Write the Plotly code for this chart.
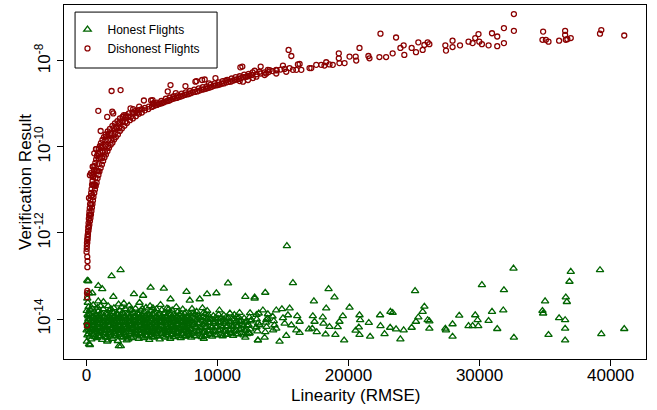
import plotly.graph_objects as go

# ---------------- Data ----------------
x_tick_values = [0, 10000, 20000, 30000, 40000]
x_tick_labels = ["0", "10000", "20000", "30000", "40000"]
y_tick_values = [1e-14, 1e-12, 1e-10, 1e-8]
y_tick_labels = ["10<sup>-14</sup>", "10<sup>-12</sup>", "10<sup>-10</sup>", "10<sup>-8</sup>"]

dishonest_rmse = [
    # low stack at RMSE ~ 0
    40, 60, 70, 50, 80, 90, 70,
    # main band, lower edge
    15, 30, 40, 46, 76, 99, 122, 160, 190, 228,
    274, 312, 350, 388, 426, 465, 503, 541, 602, 655,
    716, 784, 853, 922, 998, 1089, 1188, 1279, 1378, 1493,
    1607, 1721, 1858, 1988, 2117, 2254, 2407, 2559, 2711, 2902,
    3092, 3321, 3549, 3778, 4006, 4234, 4463, 4729, 4996, 5263,
    5529, 5796, 6062, 6329, 6596, 6900, 7205, 7509, 7814, 8119,
    8461, 8804, 9109, 9413, 9718, 10023, 10327, 10670, 11013, 11317,
    11622, 11965, 12307, 12612,
    # main band, upper edge
    69, 84, 107, 129, 145, 168, 190, 213, 236, 259,
    282, 312, 343, 366, 396, 434, 472, 510, 548, 586,
    625, 685, 746, 807, 876, 944, 1028, 1112, 1226, 1340,
    1477, 1630, 1797, 1988, 2178, 2369, 2559, 2787, 3016, 3244,
    3511, 3778, 4006, 4234, 4463, 4768, 5072, 5377, 5720, 6062,
    6367, 6672, 6976, 7281, 7586, 7890, 8233, 8576, 8880, 9185,
    9490, 9794, 10099, 10403, 10746, 11089, 11394, 11698, 12041, 12384,
    12688,
    # main band, middle
    274, 366, 457, 594, 693, 807, 944, 1074, 1241, 1462, 1676, 1934, 2285, 2772, 3191, 3739,
    1417, 1059, 1676, 1249, 1896, 1455, 2171, 1698, 2498, 2072, 2970, 2574, 3389, 2993, 3915, 3572,
    678, 518, 914, 708, 1211, 937,
    # main band, extra points on the flat part
    5133, 5392, 5666, 5925, 6199, 6458, 6748, 7052, 7357, 7662,
    7966, 8286, 8636, 8956, 9261, 9566, 9870, 10175, 10495, 10845,
    11165, 11470, 11789, 12140, 12460,
    12993, 13298, 13603, 13907, 14212, 14517, 14821, 15126, 15507,
    # scattered points above the band
    731, 1112, 1873, 2765, 2506, 6824, 5050, 4029, 2254, 1493, 480, 350, 602,
    1925, 2610, 910, 1975, 1590, 1090, 755, 1165, 960, 450, 200, 4390, 4940,
    3570, 6420, 6210, 7560, 8320, 8830, 9360, 9850, 10610, 11750, 2860, 3370, 5150,
    # right part
    11900, 12840, 13300, 13850, 15430, 15640, 15000, 14490, 16140, 15760,
    16400, 17030, 17540, 18300, 18170, 18800, 19260, 19260, 19700, 20080,
    20590, 20840, 21520, 21600, 22440, 22360, 22870, 23370, 23630, 23960,
    24210, 24260, 24820, 25150, 25330, 25660, 25790, 26040,
    12210, 12710, 13600, 14490, 15250, 16020, 17160, 17920, 18550, 19310, 11700, 11950, 12330, 12970, 13730,
    26170, 27390, 27440, 27940, 27940, 28510, 29160, 29470, 29670, 29920,
    29980, 30180, 30690, 30950, 31350, 31350, 31860, 31860, 32620, 32620,
    34850, 34800, 35060, 35260, 36070, 36530, 36530, 36580, 36700, 36960, 39190, 39290, 41040,
    20550, 8400, 9030, 13220, 13980, 16270, 270, 530, 2050,
]
dishonest_result = [
    # low stack at RMSE ~ 0
    7.1e-15, 3.2e-14, 4.5e-14, 4.0e-14, 1.6e-13, 2.2e-13, 2.8e-13,
    # main band, lower edge
    3.63e-13, 4.27e-13, 5.0e-13, 5.9e-13, 6.9e-13, 8.1e-13, 9.5e-13, 1.12e-12, 1.32e-12, 1.55e-12,
    1.9e-12, 2.24e-12, 2.7e-12, 3.24e-12, 3.9e-12, 4.7e-12, 5.7e-12, 6.9e-12, 8.5e-12, 1.02e-11,
    1.23e-11, 1.48e-11, 1.86e-11, 2.24e-11, 2.7e-11, 3.24e-11, 3.9e-11, 4.7e-11, 5.7e-11, 6.7e-11,
    7.9e-11, 9.5e-11, 1.12e-10, 1.26e-10, 1.48e-10, 1.7e-10, 1.95e-10, 2.34e-10, 2.7e-10, 3.1e-10,
    3.6e-10, 4.2e-10, 4.6e-10, 5.2e-10, 5.9e-10, 6.3e-10, 7.1e-10, 7.6e-10, 8.5e-10, 9.3e-10,
    1.0e-9, 1.05e-9, 1.15e-9, 1.2e-9, 1.32e-9, 1.38e-9, 1.48e-9, 1.62e-9, 1.7e-9, 1.86e-9,
    1.95e-9, 2.14e-9, 2.24e-9, 2.4e-9, 2.63e-9, 2.75e-9, 2.95e-9, 3.16e-9, 3.3e-9, 3.6e-9,
    3.8e-9, 4.2e-9, 4.4e-9, 4.7e-9,
    # main band, upper edge
    5.9e-13, 7.2e-13, 8.9e-13, 1.12e-12, 1.38e-12, 1.7e-12, 2.14e-12, 2.63e-12, 3.16e-12, 3.8e-12,
    4.7e-12, 5.9e-12, 7.2e-12, 8.5e-12, 1.05e-11, 1.32e-11, 1.62e-11, 2.0e-11, 2.4e-11, 2.95e-11,
    3.6e-11, 4.27e-11, 5.1e-11, 6.2e-11, 7.4e-11, 8.9e-11, 1.05e-10, 1.23e-10, 1.45e-10, 1.7e-10,
    1.95e-10, 2.29e-10, 2.63e-10, 3.1e-10, 3.55e-10, 4.0e-10, 4.6e-10, 5.0e-10, 5.5e-10, 6.0e-10,
    6.3e-10, 6.9e-10, 7.2e-10, 7.6e-10, 8.1e-10, 8.7e-10, 1.0e-9, 1.07e-9, 1.17e-9, 1.32e-9,
    1.41e-9, 1.51e-9, 1.58e-9, 1.74e-9, 1.86e-9, 2.0e-9, 2.14e-9, 2.29e-9, 2.45e-9, 2.57e-9,
    2.82e-9, 3.0e-9, 3.16e-9, 3.4e-9, 3.6e-9, 3.9e-9, 4.2e-9, 4.4e-9, 4.8e-9, 5.0e-9,
    5.4e-9,
    # main band, middle
    2.63e-12, 4.5e-12, 7.6e-12, 1.32e-11, 1.9e-11, 2.75e-11, 4.0e-11, 5.5e-11, 7.6e-11, 1.05e-10, 1.45e-10, 2.0e-10, 2.75e-10, 3.8e-10, 5.0e-10, 6.2e-10,
    7.6e-11, 7.6e-11, 1.05e-10, 1.05e-10, 1.45e-10, 1.45e-10, 2.0e-10, 2.0e-10, 2.75e-10, 2.75e-10, 3.8e-10, 3.8e-10, 5.0e-10, 5.0e-10, 6.2e-10, 6.2e-10,
    1.32e-11, 1.32e-11, 2.75e-11, 2.75e-11, 5.5e-11, 5.5e-11,
    # main band, extra points on the flat part
    8.9e-10, 9.5e-10, 1.02e-9, 1.1e-9, 1.17e-9, 1.26e-9, 1.35e-9, 1.45e-9, 1.55e-9, 1.66e-9,
    1.78e-9, 1.9e-9, 2.04e-9, 2.19e-9, 2.34e-9, 2.5e-9, 2.69e-9, 2.82e-9, 3.0e-9, 3.24e-9,
    3.47e-9, 3.7e-9, 3.98e-9, 4.27e-9, 4.57e-9,
    4.9e-9, 5.1e-9, 5.4e-9, 5.5e-9, 5.8e-9, 6.0e-9, 6.3e-9, 6.5e-9, 6.8e-9,
    # scattered points above the band
    8.9e-11, 9.8e-11, 2.1e-10, 5.0e-10, 3.55e-10, 1.78e-9, 1.23e-9, 8.7e-10, 2.95e-10, 1.74e-10, 3.47e-11, 2.45e-11, 7.1e-11,
    2.0e-9, 2.1e-9, 6.9e-10, 6.6e-10, 5.0e-10, 2.35e-10, 8.9e-11, 1.0e-10, 6.8e-11, 2.2e-11, 6.5e-12, 1.2e-9, 1.2e-9,
    7.6e-10, 2.75e-9, 1.95e-9, 2.6e-9, 3.3e-9, 3.6e-9, 3.0e-9, 4.0e-9, 3.5e-9, 7.1e-9, 5.5e-10, 7.9e-10, 1.05e-9,
    # right part
    7.4e-9, 5.9e-9, 7.4e-9, 6.2e-9, 1.8e-8, 1.3e-8, 7.8e-9, 6.2e-9, 8.3e-9, 6.2e-9,
    6.2e-9, 6.8e-9, 8.1e-9, 9.3e-9, 7.8e-9, 8.1e-9, 1.5e-8, 1.15e-8, 8.9e-9, 1.26e-8,
    1.02e-8, 2.0e-8, 1.3e-8, 1.15e-8, 4.3e-8, 1.23e-8, 1.23e-8, 1.5e-8, 3.5e-8, 2.0e-8,
    2.3e-8, 1.38e-8, 2.0e-8, 1.6e-8, 2.7e-8, 1.8e-8, 2.35e-8, 2.7e-8,
    4.3e-9, 4.0e-9, 4.7e-9, 5.1e-9, 5.6e-9, 6.2e-9, 6.8e-9, 8.1e-9, 8.3e-9, 8.9e-9, 3.4e-9, 3.3e-9, 3.6e-9, 4.3e-9, 5.1e-9,
    2.45e-8, 2.3e-8, 1.74e-8, 2.95e-8, 2.1e-8, 2.3e-8, 2.8e-8, 2.6e-8, 3.4e-8, 4.2e-8,
    2.8e-8, 2.45e-8, 2.3e-8, 4.4e-8, 3.7e-8, 2.2e-8, 5.8e-8, 2.6e-8, 1.23e-7, 5.0e-8,
    4.8e-8, 3.1e-8, 3.1e-8, 2.8e-8, 2.95e-8, 5.0e-8, 4.0e-8, 3.1e-8, 3.2e-8, 3.4e-8, 4.3e-8, 5.2e-8, 3.9e-8,
    1.26e-8, 3.4e-9, 3.7e-9, 5.6e-9, 6.1e-9, 8.5e-9, 2.2e-11, 3.5e-11, 6.0e-10,
]

honest_rmse = [
    # sparse far right
    32590, 36960, 39190, 36860, 30180, 31860, 35000, 36580, 36660, 28450,
    29670, 30950, 31810, 34800, 34850, 36070, 36530, 26170, 26170, 27390,
    27440, 27940, 29160, 29470, 29850, 29900, 30690, 31350, 27940, 32620,
    35260, 36530, 36530, 39290, 41040,
    # middle
    15300, 15760, 13650, 12840, 18480, 18930, 17360, 25080, 25790, 25660,
    25330, 26040, 25150, 24820, 23960, 23370, 23200, 22410, 22440, 23180,
    23630, 24210, 22750, 21550, 21650, 20840, 20890, 20790, 20540, 20840,
    20080, 19570, 19310, 19180, 19000, 19670, 18300, 18040, 18090, 18550,
    18250, 17580, 17410, 17280, 16980, 17240, 16090, 16270, 16270, 16020,
    15510, 15380, 15000, 14920, 15130, 15640, 15250, 14740, 14490, 14490,
    13850, 13470, 13730, 13600, 13090, 12970, 12590, 13220, 12460,
    # scattered near the left
    2610, 1925, 70, 10810, 4900, 5910, 910, 1210, 7640, 3630,
    4330, 450, 9210, 9920, 12130, 12840, 8650, 910, 2860, 6420,
    7890, 13150, 13090, 2480, 200, 1640, 3070, 8960, 12130, 145, 270, 2630, 1590,
    # dense band
    40, 80, 20, 120, 60, 150, 90, 30, 170, 110, 70, 200,
    380, 520, 430, 560, 400, 490, 600, 450, 520,
    800, 900, 760, 880, 820, 950, 780, 910, 860,
    1200, 1320, 1180, 1290, 1240, 1350, 1160, 1280, 1300,
    1600, 1700, 1580, 1720, 1640, 1690, 1610, 1750, 1660,
    2000, 2120, 1980, 2090, 2030, 2150, 2010, 2100, 2060,
    2400, 2500, 2380, 2520, 2440, 2480, 2420, 2550, 2460,
    2800, 2900, 2780, 2920, 2840, 2880, 2820, 2950,
    3200, 3300, 3180, 3320, 3240, 3290, 3220, 3350, 3260,
    3600, 3700, 3580, 3720, 3640, 3690, 3610, 3750,
    4000, 4100, 3980, 4120, 4040, 4090, 4010, 4150, 4060,
    4400, 4500, 4380, 4520, 4440, 4490, 4410, 4550,
    4800, 4900, 4780, 4920, 4840, 4890, 4810, 4950, 4860,
    5200, 5300, 5180, 5320, 5240, 5290, 5220, 5350,
    5600, 5700, 5580, 5720, 5640, 5690, 5610, 5750, 5660,
    6000, 6100, 5980, 6120, 6040, 6090, 6010, 6150,
    6400, 6500, 6380, 6520, 6440, 6490, 6410, 6550,
    6800, 6900, 6780, 6920, 6840, 6890, 6950, 6860,
    7200, 7300, 7180, 7320, 7240, 7290, 7220, 7350,
    7600, 7700, 7580, 7720, 7640, 7690, 7610,
    8000, 8100, 7980, 8120, 8040, 8090, 8150, 8060,
    8400, 8500, 8380, 8520, 8440, 8490, 8410,
    8800, 8900, 8780, 8920, 8840, 8890, 8950, 8860,
    9200, 9300, 9180, 9320, 9240, 9290, 9220,
    9600, 9700, 9580, 9720, 9640, 9690,
    10000, 10100, 9980, 10120, 10040, 10090, 10150,
    10400, 10500, 10380, 10520, 10440, 10490,
    10800, 10900, 10780, 10920, 10840, 10950,
    11200, 11300, 11180, 11320, 11240, 11290,
    11600, 11700, 11580, 11720, 11640, 11690,
    12000, 12100, 11980, 12120, 12040,
    12400, 12500, 12380, 12520, 12440, 12490,
    13050, 12950, 13100, 13000, 12980,
    13650, 13750, 13700, 13800,
    14250, 14350, 14300, 14200,
    # dense band, in-between columns
    250, 230, 270, 240, 260, 220, 280,
    650, 630, 670, 640, 660, 690,
    1050, 1030, 1070, 1040, 1060, 1020, 1080,
    1450, 1430, 1470, 1440, 1460, 1490,
    1850, 1830, 1870, 1840, 1860, 1820, 1880,
    2250, 2230, 2270, 2240, 2260, 2290,
    2650, 2630, 2670, 2640, 2660, 2620, 2680,
    3050, 3030, 3070, 3040, 3060, 3090,
    3450, 3430, 3470, 3440, 3460, 3420, 3480,
    3850, 3830, 3870, 3840, 3860, 3890,
    4250, 4230, 4270, 4240, 4260, 4220, 4280,
    4650, 4630, 4670, 4640, 4660, 4690,
    5050, 5030, 5070, 5040, 5060, 5020, 5080,
    5450, 5430, 5470, 5440, 5460, 5490,
    5850, 5830, 5870, 5840, 5860, 5890,
    6250, 6230, 6270, 6240, 6260, 6220, 6280,
    6650, 6630, 6670, 6640, 6660, 6690,
    7050, 7030, 7070, 7040, 7060, 7090,
    7450, 7430, 7470, 7440, 7460, 7490,
    7850, 7830, 7870, 7840, 7860, 7890,
    8250, 8230, 8270, 8240, 8260, 8290,
    8650, 8630, 8670, 8640, 8660,
    9050, 9030, 9070, 9040, 9060, 9090,
    9450, 9430, 9470, 9440, 9460,
    9850, 9830, 9870, 9840, 9860,
    10250, 10230, 10270, 10240, 10260,
    10650, 10630, 10670, 10640, 10660,
    11050, 11030, 11070, 11040,
    11450, 11430, 11470, 11440, 11460,
    11850, 11830, 11870, 11840,
    12250, 12230, 12270, 12240,
    # dense band, third set of columns
    150, 160, 140, 155, 145,
    560, 570, 550, 565, 555,
    960, 970, 950, 965, 955,
    1360, 1370, 1350, 1365, 1355,
    1760, 1770, 1750, 1765, 1755,
    2160, 2170, 2150, 2165, 2155,
    2560, 2570, 2550, 2565, 2555,
    2960, 2970, 2950, 2965, 2955,
    3360, 3370, 3350, 3365, 3355,
    3760, 3770, 3750, 3765, 3755,
    4160, 4170, 4150, 4165, 4155,
    4560, 4570, 4550, 4565, 4555,
    4960, 4970, 4950, 4965, 4955,
    5360, 5370, 5350, 5365, 5355,
    5760, 5770, 5750, 5765, 5755,
    6160, 6170, 6150, 6165, 6155,
    6560, 6570, 6550, 6565, 6555,
    6960, 6970, 6950, 6965, 6955,
    7360, 7370, 7350, 7365,
    7760, 7770, 7750, 7765,
]
honest_result = [
    # sparse far right
    1.5e-13, 1.26e-13, 1.38e-13, 7.4e-14, 6.2e-14, 4.7e-14, 2.6e-14, 3.2e-14, 2.5e-14, 1.2e-14,
    1.23e-14, 1.48e-14, 1.6e-14, 1.55e-14, 1.35e-14, 1.05e-14, 9.5e-15, 8.9e-15, 6.0e-15, 6.0e-15,
    5.5e-15, 7.6e-15, 6.9e-15, 6.9e-15, 9.5e-15, 6.9e-15, 9.1e-15, 5.9e-15, 3.9e-15, 3.7e-15,
    4.3e-15, 6.0e-15, 3.2e-15, 4.5e-15, 5.9e-15,
    # middle
    5.0e-13, 6.9e-14, 4.1e-14, 3.2e-14, 5.0e-14, 3.2e-14, 2.6e-14, 4.5e-14, 1.95e-14, 1.48e-14,
    1.1e-14, 9.5e-15, 8.7e-15, 6.3e-15, 3.4e-15, 1.4e-14, 1.48e-14, 1.23e-14, 6.9e-15, 6.3e-15,
    5.8e-15, 5.5e-15, 4.5e-15, 8.2e-15, 3.9e-15, 1.23e-14, 9.5e-15, 6.4e-15, 5.4e-15, 4.3e-15,
    1.86e-14, 1.17e-14, 8.7e-15, 6.5e-15, 4.3e-15, 3.2e-15, 1.78e-14, 1.1e-14, 7.9e-15, 6.6e-15,
    4.4e-15, 5.0e-15, 8.7e-15, 1.17e-14, 5.8e-15, 6.0e-15, 1.17e-14, 8.7e-15, 4.8e-15, 5.5e-15,
    1.78e-14, 1.23e-14, 1.05e-14, 1.7e-14, 7.9e-15, 7.2e-15, 4.1e-15, 3.0e-15, 6.0e-15, 1.6e-14,
    1.3e-14, 1.6e-14, 9.5e-15, 3.7e-15, 3.2e-15, 6.4e-15, 9.5e-15, 7.2e-15, 4.7e-15,
    # scattered near the left
    1.38e-13, 1.0e-13, 7.8e-14, 6.8e-14, 5.4e-14, 5.1e-14, 5.9e-14, 5.0e-14, 4.3e-14, 3.8e-14,
    3.5e-14, 4.0e-14, 3.8e-14, 4.0e-14, 3.3e-14, 3.0e-14, 2.9e-14, 2.6e-14, 2.3e-14, 2.9e-14,
    2.7e-14, 1.35e-14, 3.2e-15, 2.35e-15, 2.6e-15, 3.2e-15, 3.2e-15, 3.5e-15, 3.7e-15, 7.6e-14, 2.5e-15, 2.35e-15, 3.0e-15,
    # dense band
    3.0e-15, 4.2e-15, 5.5e-15, 6.8e-15, 8.3e-15, 1.0e-14, 1.25e-14, 1.55e-14, 1.9e-14, 2.4e-14, 3.0e-14, 4.0e-14,
    3.4e-15, 4.6e-15, 5.8e-15, 7.4e-15, 9.2e-15, 1.15e-14, 1.45e-14, 1.75e-14, 2.1e-14,
    3.6e-15, 4.1e-15, 5.2e-15, 6.5e-15, 8.0e-15, 9.8e-15, 1.2e-14, 1.5e-14, 1.85e-14,
    3.3e-15, 4.8e-15, 6.0e-15, 7.1e-15, 9.0e-15, 1.1e-14, 1.35e-14, 1.7e-14, 2.5e-14,
    3.8e-15, 4.4e-15, 5.6e-15, 6.9e-15, 8.5e-15, 1.05e-14, 1.28e-14, 1.6e-14, 2.0e-14,
    3.5e-15, 4.9e-15, 6.2e-15, 7.6e-15, 9.4e-15, 1.18e-14, 1.45e-14, 1.8e-14, 3.3e-14,
    3.1e-15, 4.3e-15, 5.4e-15, 6.6e-15, 8.2e-15, 1.02e-14, 1.25e-14, 1.55e-14, 2.2e-14,
    3.7e-15, 4.7e-15, 5.9e-15, 7.3e-15, 8.9e-15, 1.1e-14, 1.35e-14, 1.7e-14,
    3.4e-15, 4.5e-15, 5.7e-15, 7.0e-15, 8.6e-15, 1.07e-14, 1.3e-14, 1.65e-14, 2.05e-14,
    3.9e-15, 4.8e-15, 6.1e-15, 7.5e-15, 9.1e-15, 1.12e-14, 1.4e-14, 1.75e-14,
    3.5e-15, 4.4e-15, 5.5e-15, 6.8e-15, 8.4e-15, 1.04e-14, 1.28e-14, 1.58e-14, 2.4e-14,
    3.6e-15, 4.9e-15, 6.3e-15, 7.7e-15, 9.5e-15, 1.17e-14, 1.45e-14, 1.85e-14,
    3.3e-15, 4.2e-15, 5.3e-15, 6.7e-15, 8.1e-15, 1.0e-14, 1.24e-14, 1.55e-14, 2.0e-14,
    3.8e-15, 4.6e-15, 5.9e-15, 7.2e-15, 8.8e-15, 1.09e-14, 1.34e-14, 1.7e-14,
    3.4e-15, 4.5e-15, 5.6e-15, 6.9e-15, 8.5e-15, 1.05e-14, 1.3e-14, 1.62e-14, 2.15e-14,
    3.7e-15, 4.8e-15, 6.0e-15, 7.4e-15, 9.0e-15, 1.12e-14, 1.38e-14, 1.78e-14,
    3.5e-15, 4.3e-15, 5.5e-15, 6.8e-15, 8.3e-15, 1.03e-14, 1.27e-14, 1.6e-14,
    3.9e-15, 4.7e-15, 6.1e-15, 7.6e-15, 9.3e-15, 1.15e-14, 1.45e-14, 1.9e-14,
    3.6e-15, 4.5e-15, 5.8e-15, 7.1e-15, 8.7e-15, 1.08e-14, 1.33e-14, 1.68e-14,
    4.0e-15, 4.9e-15, 6.2e-15, 7.7e-15, 9.4e-15, 1.16e-14, 1.42e-14,
    3.7e-15, 4.6e-15, 5.9e-15, 7.3e-15, 8.9e-15, 1.1e-14, 1.36e-14, 1.72e-14,
    4.1e-15, 5.1e-15, 6.4e-15, 7.9e-15, 9.7e-15, 1.2e-14, 1.48e-14,
    3.8e-15, 4.8e-15, 6.0e-15, 7.5e-15, 9.2e-15, 1.13e-14, 1.42e-14, 1.8e-14,
    4.2e-15, 5.3e-15, 6.6e-15, 8.1e-15, 1.0e-14, 1.24e-14, 1.55e-14,
    3.9e-15, 5.0e-15, 6.3e-15, 7.8e-15, 9.6e-15, 1.19e-14,
    4.3e-15, 5.4e-15, 6.7e-15, 8.3e-15, 1.02e-14, 1.27e-14, 1.6e-14,
    4.0e-15, 5.1e-15, 6.4e-15, 7.9e-15, 9.8e-15, 1.22e-14,
    4.4e-15, 5.5e-15, 6.9e-15, 8.5e-15, 1.05e-14, 1.35e-14,
    4.1e-15, 5.2e-15, 6.5e-15, 8.0e-15, 9.9e-15, 1.25e-14,
    4.5e-15, 5.6e-15, 7.0e-15, 8.7e-15, 1.08e-14, 1.4e-14,
    4.2e-15, 5.4e-15, 6.8e-15, 8.4e-15, 1.04e-14,
    4.6e-15, 5.8e-15, 7.2e-15, 8.9e-15, 1.1e-14, 1.38e-14,
    5.2e-15, 6.4e-15, 8.0e-15, 9.9e-15, 1.25e-14,
    5.0e-15, 6.6e-15, 8.3e-15, 1.02e-14,
    5.5e-15, 7.2e-15, 9.0e-15, 1.15e-14,
    # dense band, in-between columns
    3.9e-15, 5.1e-15, 6.3e-15, 8.0e-15, 1.03e-14, 1.32e-14, 1.65e-14,
    3.8e-15, 4.9e-15, 6.2e-15, 8.2e-15, 1.02e-14, 1.3e-14,
    4.0e-15, 5.0e-15, 6.4e-15, 8.1e-15, 1.04e-14, 1.28e-14, 2.0e-14,
    3.7e-15, 5.2e-15, 6.5e-15, 7.9e-15, 1.0e-14, 1.34e-14,
    3.9e-15, 4.8e-15, 6.1e-15, 8.3e-15, 1.06e-14, 1.3e-14, 1.7e-14,
    4.1e-15, 5.1e-15, 6.6e-15, 8.0e-15, 1.01e-14, 1.33e-14,
    3.8e-15, 5.3e-15, 6.3e-15, 8.4e-15, 1.05e-14, 1.27e-14, 1.9e-14,
    4.0e-15, 4.9e-15, 6.4e-15, 8.1e-15, 1.0e-14, 1.31e-14,
    3.6e-15, 5.0e-15, 6.2e-15, 7.8e-15, 1.03e-14, 1.29e-14, 1.6e-14,
    4.2e-15, 5.2e-15, 6.5e-15, 8.2e-15, 1.04e-14, 1.35e-14,
    3.9e-15, 4.8e-15, 6.3e-15, 8.0e-15, 1.02e-14, 1.27e-14, 1.75e-14,
    4.0e-15, 5.1e-15, 6.6e-15, 8.3e-15, 1.05e-14, 1.32e-14,
    3.7e-15, 5.0e-15, 6.2e-15, 7.9e-15, 1.01e-14, 1.3e-14, 1.8e-14,
    4.1e-15, 5.3e-15, 6.4e-15, 8.1e-15, 1.03e-14, 1.28e-14,
    3.9e-15, 4.9e-15, 6.5e-15, 8.2e-15, 1.06e-14, 1.33e-14,
    4.2e-15, 5.2e-15, 6.3e-15, 8.0e-15, 1.0e-14, 1.29e-14, 1.7e-14,
    3.8e-15, 5.0e-15, 6.6e-15, 8.4e-15, 1.04e-14, 1.31e-14,
    4.1e-15, 5.1e-15, 6.2e-15, 7.9e-15, 1.02e-14, 1.27e-14,
    3.9e-15, 5.3e-15, 6.5e-15, 8.1e-15, 1.05e-14, 1.34e-14,
    4.3e-15, 5.0e-15, 6.4e-15, 8.3e-15, 1.01e-14, 1.3e-14,
    4.0e-15, 5.2e-15, 6.7e-15, 8.0e-15, 1.03e-14, 1.28e-14,
    4.4e-15, 5.4e-15, 6.3e-15, 8.2e-15, 1.06e-14,
    4.1e-15, 5.1e-15, 6.6e-15, 8.5e-15, 1.04e-14, 1.32e-14,
    4.5e-15, 5.5e-15, 6.8e-15, 8.3e-15, 1.02e-14,
    4.2e-15, 5.3e-15, 6.5e-15, 8.6e-15, 1.07e-14,
    4.6e-15, 5.6e-15, 7.0e-15, 8.4e-15, 1.05e-14,
    4.3e-15, 5.4e-15, 6.7e-15, 8.8e-15, 1.1e-14,
    4.7e-15, 5.8e-15, 7.1e-15, 8.6e-15,
    4.4e-15, 5.5e-15, 6.9e-15, 9.0e-15, 1.12e-14,
    4.8e-15, 6.0e-15, 7.4e-15, 9.2e-15,
    4.5e-15, 5.7e-15, 7.0e-15, 8.8e-15,
    # dense band, third set of columns
    4.5e-15, 5.8e-15, 7.3e-15, 9.1e-15, 1.16e-14,
    4.3e-15, 5.6e-15, 7.0e-15, 8.8e-15, 1.12e-14,
    4.6e-15, 5.9e-15, 7.4e-15, 9.3e-15, 1.18e-14,
    4.4e-15, 5.7e-15, 7.1e-15, 8.9e-15, 1.14e-14,
    4.2e-15, 5.5e-15, 7.2e-15, 9.2e-15, 1.17e-14,
    4.5e-15, 5.8e-15, 7.0e-15, 9.0e-15, 1.13e-14,
    4.7e-15, 5.6e-15, 7.3e-15, 8.8e-15, 1.15e-14,
    4.3e-15, 5.9e-15, 7.1e-15, 9.1e-15, 1.19e-14,
    4.6e-15, 5.7e-15, 7.4e-15, 8.9e-15, 1.12e-14,
    4.4e-15, 5.5e-15, 7.0e-15, 9.3e-15, 1.16e-14,
    4.5e-15, 5.8e-15, 7.2e-15, 9.0e-15, 1.14e-14,
    4.2e-15, 5.6e-15, 7.3e-15, 8.8e-15, 1.18e-14,
    4.7e-15, 5.9e-15, 7.1e-15, 9.2e-15, 1.13e-14,
    4.4e-15, 5.7e-15, 7.4e-15, 9.1e-15, 1.15e-14,
    4.6e-15, 5.5e-15, 7.0e-15, 8.9e-15, 1.17e-14,
    4.3e-15, 5.8e-15, 7.2e-15, 9.3e-15, 1.12e-14,
    4.5e-15, 5.6e-15, 7.3e-15, 9.0e-15, 1.16e-14,
    4.7e-15, 5.9e-15, 7.1e-15, 8.8e-15, 1.14e-14,
    4.4e-15, 5.7e-15, 7.4e-15, 9.2e-15,
    4.6e-15, 5.5e-15, 7.0e-15, 9.1e-15,
]

# ---------------- Figure ----------------
FONT = "Liberation Sans, Arial, Helvetica, sans-serif"
GREEN = "#006400"
RED = "#8B0000"

fig = go.Figure()
fig.add_trace(go.Scatter(
    x=honest_rmse, y=honest_result, mode="markers", name="Honest Flights",
    marker=dict(symbol="triangle-up-open", size=6.5, color=GREEN, line=dict(width=1.3, color=GREEN)),
))
fig.add_trace(go.Scatter(
    x=dishonest_rmse, y=dishonest_result, mode="markers", name="Dishonest Flights",
    marker=dict(symbol="circle-open", size=5, color=RED, line=dict(width=1.3, color=RED)),
))

# plot area: x 64..646 px, y 5..359 px
fig.update_layout(
    width=657, height=410,
    margin=dict(l=64, r=11, t=5, b=51, autoexpand=False),
    plot_bgcolor="white", paper_bgcolor="white",
    font=dict(family=FONT, size=17, color="black"),
    showlegend=True,
    legend=dict(
        x=0.006, y=0.972, xanchor="left", yanchor="top",
        borderwidth=0, bgcolor="rgba(0,0,0,0)",
        font=dict(size=12, family=FONT, color="black"),
        itemwidth=30, tracegroupgap=0,
    ),
    shapes=[dict(
        type="rect", xref="paper", yref="paper",
        x0=0.019, x1=0.263, y0=0.822, y1=0.980,
        line=dict(color="black", width=1), fillcolor="rgba(0,0,0,0)", layer="above",
    )],
    annotations=[
        dict(text="Linearity (RMSE)", xref="paper", yref="paper", x=0.5, y=-0.104,
             xanchor="center", yanchor="middle", showarrow=False, font=dict(size=17)),
        dict(text="Verification Result", xref="paper", yref="paper", x=-0.067, y=0.5,
             xanchor="center", yanchor="middle", textangle=-90, showarrow=False, font=dict(size=17)),
    ],
)
fig.update_xaxes(
    range=[-1706, 42700], automargin=False,
    tickmode="array", tickvals=x_tick_values, ticktext=x_tick_labels,
    ticks="outside", ticklen=6, tickcolor="black", tickwidth=1,
    ticklabelstandoff=-5,
    showline=True, linecolor="black", linewidth=1, mirror=True,
    showgrid=False, zeroline=False,
)
fig.update_yaxes(
    type="log", range=[-14.93, -6.70], automargin=False,
    tickmode="array", tickvals=y_tick_values, ticktext=y_tick_labels,
    tickangle=-90,
    ticks="outside", ticklen=6, tickcolor="black", tickwidth=1,
    showline=True, linecolor="black", linewidth=1, mirror=True,
    showgrid=False, zeroline=False,
)

fig.write_html(
    "out.html",
    config={"displayModeBar": False},
    post_script="document.body.style.margin='0px';",
)
